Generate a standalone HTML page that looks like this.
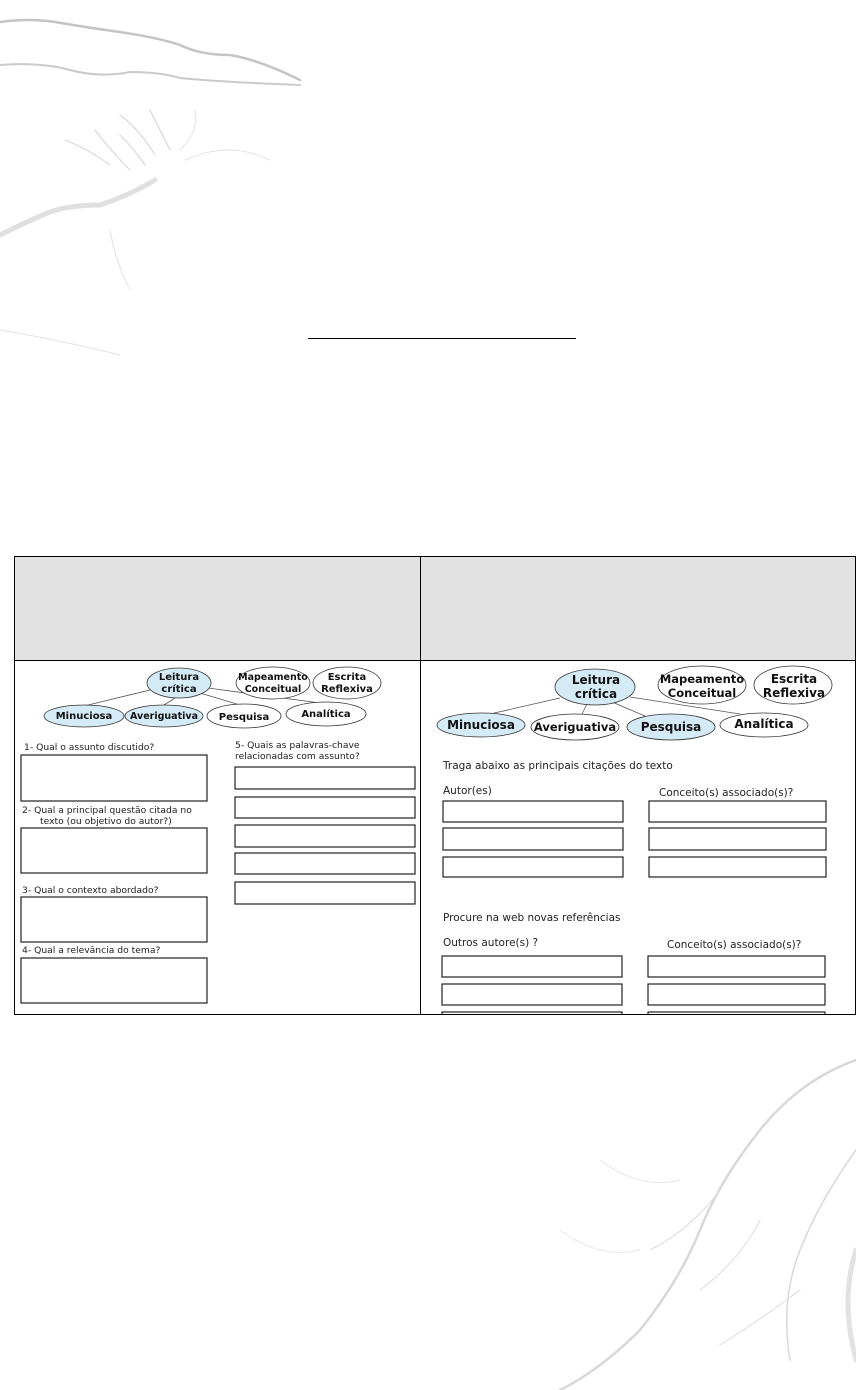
<!DOCTYPE html>
<html><head><meta charset="utf-8"><style>
html,body{margin:0;padding:0;background:#fff;width:856px;height:1390px;overflow:hidden}
svg{display:block}
text{font-family:"DejaVu Sans","Liberation Sans",sans-serif}
</style></head><body>
<svg width="856" height="1390" viewBox="0 0 856 1390" xmlns="http://www.w3.org/2000/svg">
<!-- faint map top-left -->
<g fill="none" stroke="#cfcfcf" stroke-linecap="round">
<path d="M0 22 Q30 18 55 22 Q90 28 120 32 Q160 38 180 45 Q200 55 230 55 Q260 60 300 80" stroke-width="2.5" stroke="#c4c4c4"/>
<path d="M0 65 Q40 62 70 70 Q100 78 130 72 Q160 72 180 78 Q220 82 300 85" stroke-width="2" stroke="#cacaca"/>
<path d="M0 235 Q30 220 50 212 Q70 205 100 205 Q130 195 155 180" stroke-width="5" stroke="#e0e0e0"/>
<path d="M65 140 Q90 150 110 165 M95 130 Q110 150 130 170 M120 135 Q135 150 145 165 M150 110 Q160 130 170 150 M120 115 Q140 130 155 155" stroke-width="1.2" stroke="#d8d8d8"/>
<path d="M180 150 Q200 130 195 110 M185 160 Q230 140 270 160" stroke-width="1" stroke="#e2e2e2"/>
<path d="M110 230 Q115 260 130 290 M0 330 Q60 340 120 355" stroke-width="1" stroke="#e2e2e2"/>
</g>
<!-- faint map bottom-right -->
<g fill="none" stroke="#d8d8d8" stroke-linecap="round">
<path d="M856 1060 Q800 1080 760 1130 Q720 1180 700 1230 Q680 1280 640 1330 Q600 1370 560 1390" stroke-width="2.5"/>
<path d="M856 1150 Q820 1200 800 1250 Q780 1300 790 1360" stroke-width="1.5"/>
<path d="M720 1190 Q690 1230 650 1250 M760 1220 Q740 1260 700 1290 M800 1290 Q760 1320 720 1345" stroke-width="1.2" stroke="#e0e0e0"/>
<path d="M856 1250 Q840 1300 856 1360" stroke-width="5" stroke="#e2e2e2"/>
<path d="M560 1230 Q600 1260 640 1250 M600 1160 Q640 1190 680 1180" stroke-width="1" stroke="#e6e6e6"/>
</g>
<line x1="308" y1="338.5" x2="576" y2="338.5" stroke="#000" stroke-width="1"/>
<!-- table -->
<rect x="14.5" y="556.5" width="841" height="104" fill="#e2e2e2"/>
<rect x="14.5" y="556.5" width="841" height="458" fill="none" stroke="#000"/>
<line x1="14" y1="660.5" x2="856" y2="660.5" stroke="#000"/>
<line x1="420.5" y1="556" x2="420.5" y2="1015" stroke="#000"/>
<!-- left panel -->
<g stroke="#555" stroke-width="0.8">
<line x1="150" y1="690" x2="84" y2="706"/>
<line x1="175" y1="698" x2="164" y2="705"/>
<line x1="200" y1="693" x2="240" y2="705"/>
<line x1="208" y1="688" x2="320" y2="703"/>
</g>
<g stroke="#333" stroke-width="0.8">
<ellipse cx="179" cy="683" rx="32" ry="15" fill="#d4ebf7"/>
<ellipse cx="273" cy="683" rx="37" ry="16" fill="#fff"/>
<ellipse cx="347" cy="683" rx="34" ry="16" fill="#fff"/>
<ellipse cx="84" cy="716" rx="40" ry="11" fill="#d4ebf7"/>
<ellipse cx="164" cy="716" rx="39" ry="11" fill="#d4ebf7"/>
<ellipse cx="244" cy="716" rx="37" ry="12" fill="#fff"/>
<ellipse cx="326" cy="714" rx="40" ry="12" fill="#fff"/>
</g>
<g font-size="10" font-weight="bold" text-anchor="middle" fill="#111">
<text x="179" y="680">Leitura</text><text x="179" y="692">crítica</text>
<text x="273" y="680" font-size="9.5">Mapeamento</text><text x="273" y="692" font-size="9.5">Conceitual</text>
<text x="347" y="680">Escrita</text><text x="347" y="692">Reflexiva</text>
<text x="84" y="719">Minuciosa</text>
<text x="164" y="719" font-size="9.5">Averiguativa</text>
<text x="244" y="720">Pesquisa</text>
<text x="326" y="717">Analítica</text>
</g>
<g font-size="9.2" fill="#222">
<text x="24" y="750">1- Qual o assunto discutido?</text>
<text x="22" y="813">2- Qual a principal questão citada no</text>
<text x="40" y="824">texto (ou objetivo do autor?)</text>
<text x="22" y="893">3- Qual o contexto abordado?</text>
<text x="22" y="953">4- Qual a relevância do tema?</text>
<text x="235" y="748">5- Quais as palavras-chave</text>
<text x="235" y="759">relacionadas com assunto?</text>
</g>
<g fill="#fff" stroke="#222" stroke-width="1.2">
<rect x="21" y="755" width="186" height="46"/>
<rect x="21" y="828" width="186" height="45"/>
<rect x="21" y="897" width="186" height="45"/>
<rect x="21" y="958" width="186" height="45"/>
<rect x="235" y="767" width="180" height="22"/>
<rect x="235" y="797" width="180" height="21"/>
<rect x="235" y="825" width="180" height="22"/>
<rect x="235" y="853" width="180" height="21"/>
<rect x="235" y="882" width="180" height="22"/>
</g>
<!-- right panel -->
<g stroke="#555" stroke-width="0.8">
<line x1="560" y1="698" x2="490" y2="714"/>
<line x1="587" y1="704" x2="582" y2="714"/>
<line x1="612" y1="702" x2="645" y2="716"/>
<line x1="630" y1="697" x2="740" y2="714"/>
</g>
<g stroke="#333" stroke-width="0.8">
<ellipse cx="595" cy="687" rx="40" ry="18" fill="#d4ebf7"/>
<ellipse cx="702" cy="685" rx="44" ry="19" fill="#fff"/>
<ellipse cx="793" cy="685" rx="39" ry="19" fill="#fff"/>
<ellipse cx="481" cy="725" rx="44" ry="12" fill="#d4ebf7"/>
<ellipse cx="575" cy="727" rx="44" ry="13" fill="#fff"/>
<ellipse cx="671" cy="727" rx="44" ry="13" fill="#d4ebf7"/>
<ellipse cx="764" cy="725" rx="44" ry="12" fill="#fff"/>
</g>
<g font-size="12" font-weight="bold" text-anchor="middle" fill="#111">
<text x="596" y="684">Leitura</text><text x="596" y="698">crítica</text>
<text x="702" y="683" font-size="11.5">Mapeamento</text><text x="702" y="697" font-size="11.5">Conceitual</text>
<text x="794" y="683">Escrita</text><text x="794" y="697">Reflexiva</text>
<text x="481" y="729">Minuciosa</text>
<text x="575" y="731" font-size="11.5">Averiguativa</text>
<text x="671" y="731">Pesquisa</text>
<text x="764" y="728">Analítica</text>
</g>
<g font-size="10.5" fill="#222">
<text x="443" y="769">Traga abaixo as principais citações do texto</text>
<text x="443" y="794">Autor(es)</text>
<text x="659" y="796">Conceito(s) associado(s)?</text>
<text x="443" y="921">Procure na web novas referências</text>
<text x="443" y="946">Outros autore(s) ?</text>
<text x="667" y="948">Conceito(s) associado(s)?</text>
</g>
<g fill="#fff" stroke="#222" stroke-width="1.2">
<rect x="443" y="801" width="180" height="21"/>
<rect x="443" y="828" width="180" height="22"/>
<rect x="443" y="857" width="180" height="20"/>
<rect x="649" y="801" width="177" height="21"/>
<rect x="649" y="828" width="177" height="22"/>
<rect x="649" y="857" width="177" height="20"/>
<rect x="442" y="956" width="180" height="21"/>
<rect x="442" y="984" width="180" height="21"/>
<rect x="648" y="956" width="177" height="21"/>
<rect x="648" y="984" width="177" height="21"/>
<rect x="442" y="1012" width="180" height="10"/>
<rect x="648" y="1012" width="177" height="10"/>
</g>
<rect x="421" y="1015" width="434" height="10" fill="#fff"/>
<line x1="14" y1="1014.5" x2="856" y2="1014.5" stroke="#000"/>
</svg>
</body></html>
